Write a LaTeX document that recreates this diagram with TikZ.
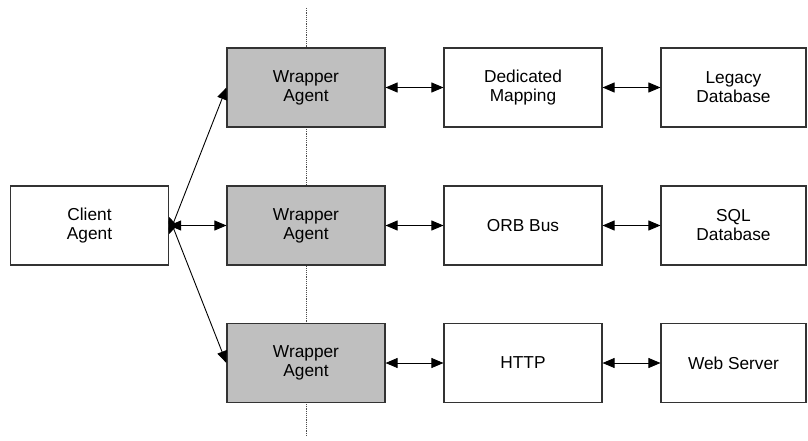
\documentclass[tikz,border=0pt]{standalone}
\usepackage{fontspec}
\setmainfont{Liberation Sans}
\usetikzlibrary{arrows.meta}
\begin{document}
\begin{tikzpicture}[x=1pt,y=-1pt,
  box/.style={draw=black!80, line width=1.1pt, fill=white, minimum width=158pt, minimum height=79pt,
    inner sep=0pt, align=center, font=\fontsize{17.3}{19}\selectfont},
  wrap/.style={box, fill=black!25},
  dbbox/.style={box, minimum width=145pt},
  link/.style={line width=0.9pt, {Triangle[length=12pt,width=10pt]}-{Triangle[length=12pt,width=10pt]}},
  sep/.style={draw=black!70, line width=0.9pt, dash pattern=on 1.2pt off 1pt}]
\useasboundingbox (0,0) rectangle (808,441);
\coordinate (st) at (306,8);
\coordinate (sb) at (306,437);
\draw[sep] (st) -- (sb);
\node[box] (client) at (89.5,225.5) {Client\\Agent};
\node[wrap] (w1) at (306,87.5) {Wrapper\\Agent};
\node[wrap] (w2) at (306,225.5) {Wrapper\\Agent};
\node[wrap] (w3) at (306,363) {Wrapper\\Agent};
\node[box] (m1) at (523,87.5) {Dedicated\\Mapping};
\node[box] (m2) at (523,225.5) {ORB Bus};
\node[box] (m3) at (523,363) {HTTP};
\node[dbbox] (d1) at (733.5,87.5) {Legacy\\Database};
\node[dbbox] (d2) at (733.5,225.5) {SQL\\Database};
\node[dbbox] (d3) at (733.5,363) {Web Server};
\draw[link] ([yshift=-8.5pt]client.east) -- (w1.west);
\draw[link] (client.east) -- (w2.west);
\draw[link] ([yshift=8.5pt]client.east) -- (w3.west);
\foreach \i in {1,2,3} {
  \draw[link] (w\i.east) -- (m\i.west);
  \draw[link] (m\i.east) -- (d\i.west);
}
\end{tikzpicture}
\end{document}
